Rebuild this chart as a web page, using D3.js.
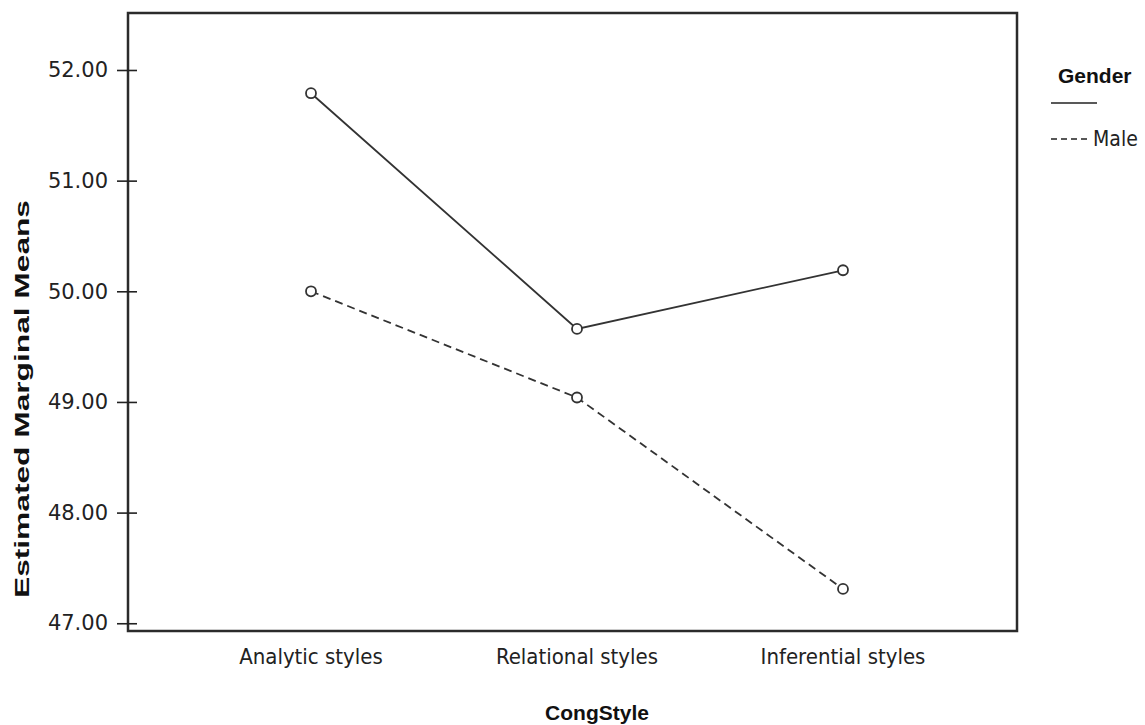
<!DOCTYPE html>
<html>
<head>
<meta charset="utf-8">
<script src="https://cdn.jsdelivr.net/npm/d3@7"></script>
<style>
  body { margin: 0; background: #fff; }
  svg { display: block; }
</style>
</head>
<body>
<svg id="chart" width="1145" height="725"></svg>
<script>
// data
const categories = ["Analytic styles", "Relational styles", "Inferential styles"];
const femaleMeans = [51.79, 49.66, 50.19];
const maleMeans = [50.00, 49.04, 47.31];
const yTicks = [47, 48, 49, 50, 51, 52];
const legendLabels = ["", "Male"];

const plotLeft = 128, plotRight = 1017, plotTop = 13, plotBottom = 631;

const svg = d3.select('#chart');

const x = d3.scalePoint()
    .domain(categories)
    .range([311, 843]);

const y = d3.scaleLinear()
    .domain([46.93, 52.515])
    .range([plotBottom, plotTop]);

// frame
svg.append('rect')
    .attr('x', plotLeft)
    .attr('y', plotTop)
    .attr('width', plotRight - plotLeft)
    .attr('height', plotBottom - plotTop)
    .attr('fill', 'none')
    .attr('stroke', '#2b2b2b')
    .attr('stroke-width', 2.5);

// y axis
const yAxis = d3.axisLeft(y)
    .tickValues(yTicks)
    .tickFormat(d3.format('.2f'))
    .tickSize(10)
    .tickPadding(10);

const gy = svg.append('g')
    .attr('transform', `translate(${plotLeft},0)`)
    .call(yAxis);
gy.select('.domain').remove();
gy.selectAll('.tick line')
    .attr('x1', -11)
    .attr('x2', 9)
    .attr('stroke', '#222')
    .attr('stroke-width', 1.6);
gy.selectAll('.tick text')
    .attr('font-family', 'DejaVu Sans, sans-serif')
    .attr('font-size', 21)
    .attr('fill', '#222');

// x labels
svg.append('g').selectAll('text')
    .data(categories)
    .enter().append('text')
        .attr('x', d => x(d))
        .attr('y', 664)
        .attr('text-anchor', 'middle')
        .attr('font-family', 'DejaVu Sans Condensed, DejaVu Sans, sans-serif')
        .attr('font-size', 22)
        .attr('fill', '#222')
        .text(d => d);

// axis titles
svg.append('text')
    .attr('transform', 'translate(29,399) rotate(-90)')
    .attr('text-anchor', 'middle')
    .attr('font-family', 'Liberation Sans, Arial, sans-serif')
    .attr('font-weight', 'bold')
    .attr('font-size', 20)
    .attr('textLength', 398)
    .attr('lengthAdjust', 'spacingAndGlyphs')
    .attr('fill', '#111')
    .text('Estimated Marginal Means');

svg.append('text')
    .attr('x', 597)
    .attr('y', 720)
    .attr('text-anchor', 'middle')
    .attr('font-family', 'Liberation Sans, Arial, sans-serif')
    .attr('font-weight', 'bold')
    .attr('font-size', 21)
    .attr('fill', '#111')
    .text('CongStyle');

// series
const series = [
    { values: femaleMeans, dash: null },
    { values: maleMeans, dash: '8,5' }
];

const line = d3.line()
    .x((d, i) => x(categories[i]))
    .y(d => y(d));

series.forEach(s => {
    svg.append('path')
        .datum(s.values)
        .attr('fill', 'none')
        .attr('stroke', '#333')
        .attr('stroke-width', 1.8)
        .attr('stroke-dasharray', s.dash)
        .attr('d', line);

    svg.append('g').selectAll('circle')
        .data(s.values)
        .enter().append('circle')
            .attr('cx', (d, i) => x(categories[i]))
            .attr('cy', d => y(d))
            .attr('r', 5)
            .attr('fill', '#fff')
            .attr('stroke', '#333')
            .attr('stroke-width', 1.8);
});

// legend
svg.append('text')
    .attr('x', 1058)
    .attr('y', 83)
    .attr('font-family', 'Liberation Sans, Arial, sans-serif')
    .attr('font-weight', 'bold')
    .attr('font-size', 21)
    .attr('fill', '#111')
    .text('Gender');

const legend = svg.append('g').selectAll('g')
    .data(series)
    .enter().append('g')
        .attr('transform', (d, i) => `translate(1051,${103 + i * 36})`);

legend.append('line')
    .attr('x1', 0)
    .attr('x2', (d, i) => i === 0 ? 46 : 38)
    .attr('stroke', '#222')
    .attr('stroke-width', 1.6)
    .attr('stroke-dasharray', d => d.dash ? '6,4' : null);

legend.append('text')
    .attr('x', 42)
    .attr('y', 7)
    .attr('font-family', 'DejaVu Sans Condensed, DejaVu Sans, sans-serif')
    .attr('font-size', 21)
    .attr('fill', '#222')
    .text((d, i) => legendLabels[i]);
</script>
</body>
</html>
